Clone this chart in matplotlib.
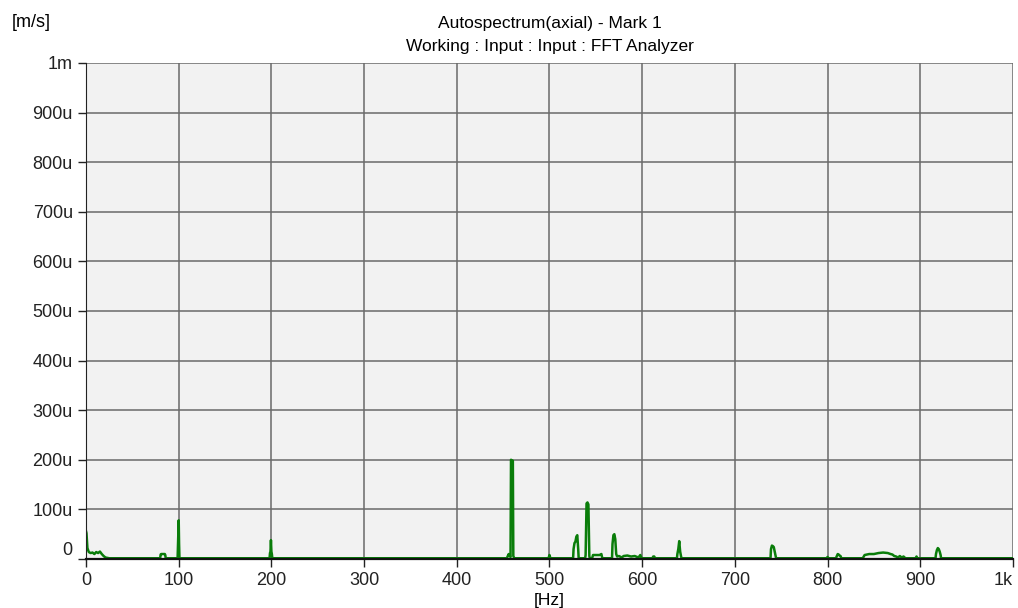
import numpy as np
import matplotlib.pyplot as plt

# spectrum trace, frequency in Hz, amplitude in micro m/s
freq = [0, 0.5, 1.5, 3, 5, 7, 9, 11, 13, 15, 17, 19, 21, 25,
        80, 80.5, 81, 85, 85.5, 86,
        98.8, 99.2, 99.6, 100, 100.4, 100.8,
        198, 198.5, 199, 199.5, 200, 200.5, 201,
        454, 455, 456, 457, 458, 458.5, 460.5, 461, 462,
        499, 500, 501,
        525.5, 526, 527, 528, 529, 530, 531, 531.5,
        538.5, 539, 540, 541, 542, 543, 543.5,
        546, 547, 548, 554, 556, 557,
        567.5, 568, 569, 570, 571, 572, 573, 575, 578, 580, 584, 588, 592, 596, 598, 599, 600, 601,
        611, 612, 613, 614,
        637.5, 638, 639, 640, 641, 642, 642.5,
        738.5, 739, 740, 741, 742, 743, 744, 744.5,
        799, 800, 801,
        809, 810, 811, 812, 813, 814, 815,
        838, 840, 845, 850, 855, 860, 865, 868, 870, 872, 874, 876, 878, 880, 882, 884,
        895, 896, 897,
        916.5, 917, 918, 919, 920, 921, 922, 922.5,
        1000]
amp = [56, 52, 22, 14, 12, 13, 10, 14, 12, 15, 10, 6, 3, 1.5,
       1.5, 9, 10, 10, 8, 1.5,
       1.5, 25, 45, 78, 30, 1.5,
       1.5, 12, 15, 38, 15, 10, 1.5,
       1.5, 6, 10, 6, 4, 200, 198, 6, 1.5,
       1.5, 8, 1.5,
       1.5, 20, 32, 35, 45, 48, 20, 1.5,
       1.5, 8, 112, 114, 110, 6, 1.5,
       1.5, 8, 8, 8, 10, 1.5,
       1.5, 30, 48, 50, 40, 10, 5, 6, 3, 6, 7, 5, 6, 3, 8, 3, 1.5, 1.5,
       1.5, 5, 5, 1.5,
       1.5, 10, 20, 36, 15, 5, 1.5,
       1.5, 20, 27, 26, 24, 15, 6, 1.5,
       1.5, 4, 1.5,
       1.5, 6, 10, 9, 7, 6, 1.5,
       1.5, 8, 10, 10, 12, 13, 12, 10, 9, 6, 5, 3, 6, 3, 5, 1.5,
       1.5, 5, 1.5,
       1.5, 10, 18, 22, 20, 15, 8, 1.5,
       1.5]

x_ticks = [0, 100, 200, 300, 400, 500, 600, 700, 800, 900, 1000]
x_labels = ['0', '100', '200', '300', '400', '500', '600', '700', '800', '900', '1k']
y_ticks = [0, 100, 200, 300, 400, 500, 600, 700, 800, 900, 1000]
y_labels = ['0', '100u', '200u', '300u', '400u', '500u', '600u', '700u', '800u', '900u', '1m']

plt.rcParams['font.family'] = ['Liberation Sans', 'DejaVu Sans']

fig = plt.figure(figsize=(10.18, 6.08), dpi=100)
ax = fig.add_axes([0.0845, 0.0806, 0.9105, 0.8158])
ax.set_facecolor('#f2f2f2')

ax.plot(freq, amp, color='#0a7d0a', lw=1.8)

ax.set_xlim(0, 1000)
ax.set_ylim(0, 1000)
ax.set_xticks(x_ticks)
ax.set_xticklabels(x_labels)
ax.set_yticks(y_ticks)
ax.set_yticklabels(y_labels)
ax.tick_params(labelsize=13, length=6, width=1, colors='#222222')
ax.get_yticklabels()[0].set_verticalalignment('bottom')
ax.get_xticklabels()[-1].set_horizontalalignment('right')

ax.grid(True, color='#6a6a6a', lw=1.1)
ax.set_axisbelow(True)
for s in ['top', 'right']:
    ax.spines[s].set_visible(False)
ax.spines['left'].set_color('#222222')
ax.spines['bottom'].set_color('#111111')
ax.spines['bottom'].set_linewidth(1.6)

fig.text(0.5398, 0.962, 'Autospectrum(axial) - Mark 1', ha='center', va='center', fontsize=12.5)
fig.text(0.5398, 0.923, 'Working : Input : Input : FFT Analyzer', ha='center', va='center', fontsize=12.5)
fig.text(0.012, 0.963, '[m/s]', ha='left', va='center', fontsize=13)
fig.text(0.5398, 0.012, '[Hz]', ha='center', va='center', fontsize=12.5)

fig.savefig('out.png', dpi=100)
